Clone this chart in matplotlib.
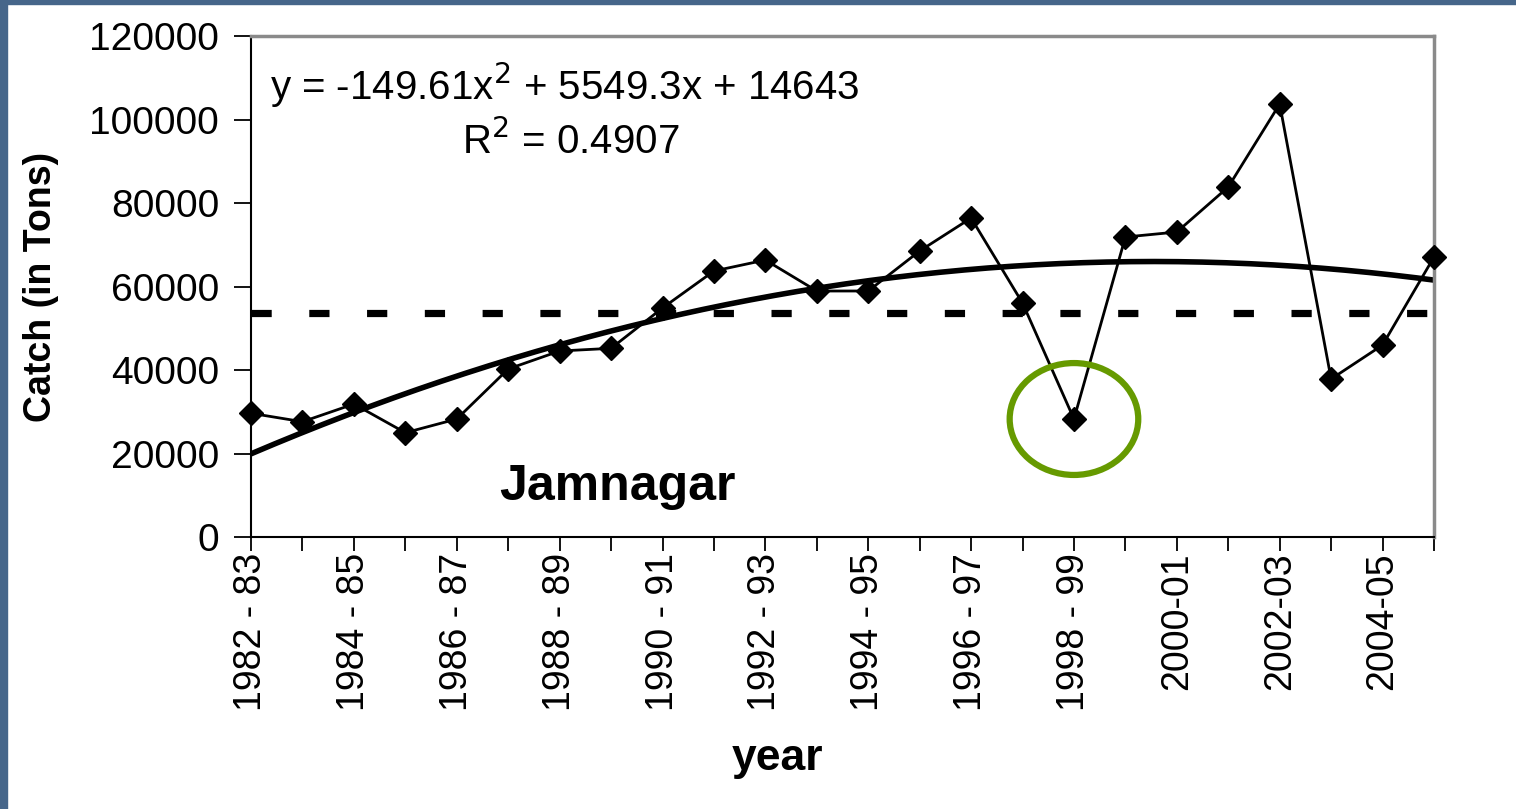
import numpy as np
import matplotlib
matplotlib.use('Agg')
import matplotlib.pyplot as plt
from matplotlib.patches import Ellipse, Rectangle

plt.rcParams['font.family'] = ['Liberation Sans', 'DejaVu Sans']

years = ['1982 - 83', '1983 - 84', '1984 - 85', '1985 - 86', '1986 - 87', '1987 - 88',
         '1988 - 89', '1989 - 90', '1990 - 91', '1991 - 92', '1992 - 93', '1993 - 94',
         '1994 - 95', '1995 - 96', '1996 - 97', '1997 - 98', '1998 - 99', '1999-00',
         '2000-01', '2001-02', '2002-03', '2003-04', '2004-05', '2005-06']
catch = [29750, 27730, 31970, 25100, 28380, 40360, 44670, 45310, 54970, 63830,
         66460, 59040, 59040, 68620, 76520, 56160, 28380, 71970, 73170, 83950,
         103820, 37960, 46100, 67180]
# coefficients of the polynomial trendline shown on the chart (x = 1..24)
trend_coef = [-149.61, 5549.3, 14643]
yticks = [0, 20000, 40000, 60000, 80000, 100000, 120000]

fig = plt.figure(figsize=(15.16, 8.09), dpi=100)
ax = fig.add_axes([0.1656, 0.3356, 0.7803, 0.6193])

x = np.arange(len(years))
mean_val = np.mean(catch)

# mean line
ax.plot([0, len(years) - 1], [mean_val, mean_val], color='black', lw=5.2,
        linestyle=(0, (2.8, 5.2)), solid_capstyle='butt', dash_capstyle='butt')

# polynomial trend
xt = np.linspace(0, len(years) - 1, 200)
ax.plot(xt, np.polyval(trend_coef, xt + 1), color='black', lw=4.0)

# data
ax.plot(x, catch, color='black', lw=2.0, marker='D', markersize=12,
        clip_on=False, zorder=5)

ax.add_patch(Ellipse((16, catch[16]), 2.5, 26800, fill=False,
                     edgecolor='#669a00', lw=4.5, zorder=6))

ax.set_xlim(0, len(years) - 1)
ax.set_ylim(0, 120000)
ax.set_yticks(yticks)
ax.set_yticklabels([str(v) for v in yticks])
ax.set_xticks(x)
ax.set_xticklabels([y if i % 2 == 0 else '' for i, y in enumerate(years)],
                   rotation=90, va='top')

ax.tick_params(axis='y', labelsize=28, length=12, width=1.3, pad=11)
ax.tick_params(axis='x', labelsize=27, length=10, width=1.3, pad=1)

for side in ['left', 'bottom']:
    ax.spines[side].set_color('black')
    ax.spines[side].set_linewidth(1.5)
for side in ['top', 'right']:
    ax.spines[side].set_color('#8a8a8a')
    ax.spines[side].set_linewidth(2.5)

ax.set_ylabel('Catch (in Tons)', fontsize=27, fontweight='bold')
ax.yaxis.set_label_coords(-0.162, 0.5)
ax.set_xlabel('year', fontsize=32, fontweight='bold')
ax.xaxis.set_label_coords(0.445, -0.40)

ax.text(0.016, 0.903, 'y = -149.61x$^2$ + 5549.3x + 14643', transform=ax.transAxes,
        fontsize=29, ha='left', va='center')
ax.text(0.27, 0.79, 'R$^2$ = 0.4907', transform=ax.transAxes,
        fontsize=29, ha='center', va='center')
ax.text(0.21, 0.10, 'Jamnagar', transform=ax.transAxes,
        fontsize=36, fontweight='bold', ha='left', va='center')

# slide frame
fig.patches.append(Rectangle((0, 0), 7 / 1516, 1, transform=fig.transFigure,
                             color='#46668a', zorder=0))
fig.patches.append(Rectangle((0, 1 - 4 / 809), 1, 4 / 809, transform=fig.transFigure,
                             color='#46668a', zorder=0))

fig.savefig('out.png', dpi=100)
